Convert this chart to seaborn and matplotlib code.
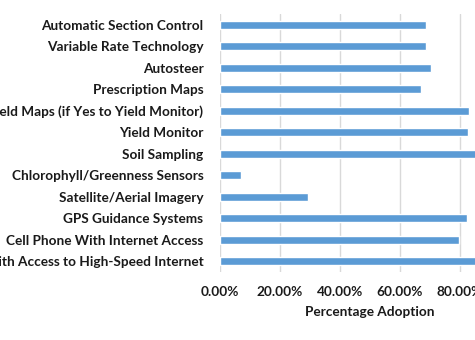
import matplotlib
matplotlib.use("Agg")
import matplotlib.pyplot as plt
import seaborn as sns
import pandas as pd
from matplotlib.ticker import FuncFormatter

categories = [
    "Automatic Section Control",
    "Variable Rate Technology",
    "Autosteer",
    "Prescription Maps",
    "Yield Maps (if Yes to Yield Monitor)",
    "Yield Monitor",
    "Soil Sampling",
    "Chlorophyll/Greenness Sensors",
    "Satellite/Aerial Imagery",
    "GPS Guidance Systems",
    "Cell Phone With Internet Access",
    "With Access to High-Speed Internet",
]
values = [68.6, 68.6, 70.2, 67.0, 83.0, 82.6, 90.0, 6.9, 29.2, 82.3, 79.6, 88.0]
x_ticks = [0, 20, 40, 60, 80, 100]

sns.set_theme(style="white")
plt.rcParams['font.family'] = ['Lato', 'DejaVu Sans']

df = pd.DataFrame({"cat": categories, "val": values})

fig = plt.figure(figsize=(4.75, 3.4), dpi=100)
# axes extends past the right edge of the figure (cropped original)
ax = fig.add_axes([220/475, 1 - 272/340, 300/475, (272 - 14)/340])
sns.barplot(data=df, x="val", y="cat", color="#5B9BD5", width=0.35,
            saturation=1, ax=ax, zorder=3)
ax.set_xlim(0, 100)
ax.set_xticks(x_ticks)
ax.xaxis.set_major_formatter(FuncFormatter(lambda v, p: f"{v:.2f}%"))
ax.grid(axis="x", color="#D9D9D9", linewidth=1, zorder=0)
ax.grid(axis="y", visible=False)
for s in ax.spines.values():
    s.set_visible(False)
ax.tick_params(axis="both", length=0)
ax.tick_params(axis="x", pad=10)
ax.tick_params(axis="y", pad=12)
for lab in ax.get_yticklabels() + ax.get_xticklabels():
    lab.set_fontweight("bold")
    lab.set_fontsize(9.8)
    lab.set_color("#1a1a1a")
ax.set_ylabel("")
ax.set_xlabel("Percentage Adoption", fontweight="bold", fontsize=9.8,
              color="#1a1a1a", labelpad=6)
fig.savefig("out.png", dpi=100)
